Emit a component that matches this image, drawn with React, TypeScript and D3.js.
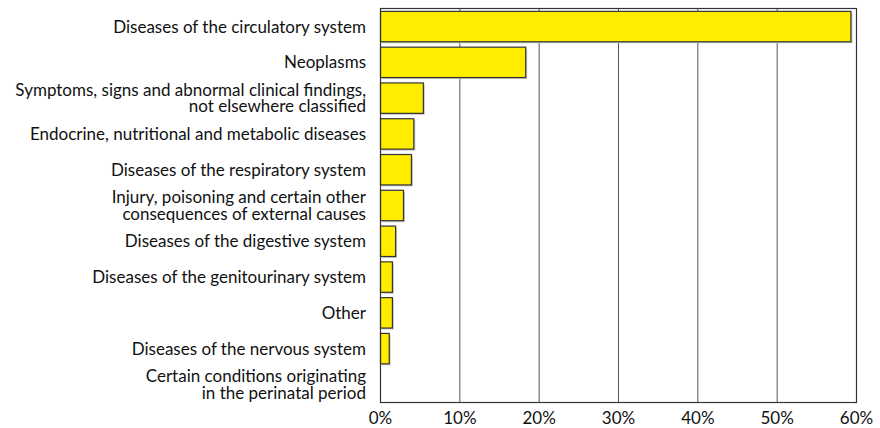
import React from "react";
import * as d3 from "d3";

const categories: string[][] = [
  ["Diseases of the circulatory system"],
  ["Neoplasms"],
  ["Symptoms, signs and abnormal clinical findings,", "not elsewhere classified"],
  ["Endocrine, nutritional and metabolic diseases"],
  ["Diseases of the respiratory system"],
  ["Injury, poisoning and certain other", "consequences of external causes"],
  ["Diseases of the digestive system"],
  ["Diseases of the genitourinary system"],
  ["Other"],
  ["Diseases of the nervous system"],
  ["Certain conditions originating", "in the perinatal period"],
];
const values: number[] = [59.3, 18.3, 5.4, 4.2, 3.9, 2.9, 1.9, 1.5, 1.5, 1.1, 0];
const ticks: number[] = [0, 10, 20, 30, 40, 50, 60];

const W = 880;
const H = 428;
const m = { left: 380.5, right: 23.5, top: 8.5, bottom: 25.5 };

export default function App() {
  const x = d3.scaleLinear().domain([0, 60]).range([m.left, W - m.right]);
  const y = d3
    .scaleBand<number>()
    .domain(d3.range(categories.length))
    .range([m.top, H - m.bottom])
    .paddingInner(0.15)
    .paddingOuter(0.08);
  const font = "Lato, 'Open Sans', sans-serif";
  return (
    <svg width={W} height={H} style={{ position: "absolute", left: 0, top: 0 }}>
      <rect x={0} y={0} width={W} height={H} fill="#fff" />
      {ticks.slice(1, -1).map((t) => (
        <line key={t} x1={x(t)} x2={x(t)} y1={m.top} y2={H - m.bottom} stroke="#555" strokeWidth={1} />
      ))}
      {values.map((v, i) =>
        v > 0 ? (
          <g key={i}>
            <rect
              x={x(0) + 1.5}
              y={(y(i) as number) + 1.5}
              width={x(v) - x(0)}
              height={y.bandwidth()}
              fill="#c8c8c8"
            />
            <rect
              x={x(0)}
              y={y(i)}
              width={x(v) - x(0)}
              height={y.bandwidth()}
              fill="#FFED00"
              stroke="#333"
              strokeWidth={1.2}
            />
          </g>
        ) : null
      )}
      <rect
        x={m.left}
        y={m.top}
        width={W - m.right - m.left}
        height={H - m.bottom - m.top}
        fill="none"
        stroke="#333"
        strokeWidth={1.2}
      />
      {categories.map((lines, i) => {
        const cy = (y(i) as number) + y.bandwidth() / 2;
        const lh = 16.5;
        const start = cy - ((lines.length - 1) * lh) / 2;
        return (
          <text key={i} textAnchor="end" fontFamily={font} fontSize={17} fill="#111">
            {lines.map((l, j) => (
              <tspan key={j} x={366} y={start + j * lh} dy="0.35em">
                {l}
              </tspan>
            ))}
          </text>
        );
      })}
      {ticks.map((t) => (
        <text
          key={t}
          x={x(t)}
          y={H - m.bottom + 16}
          dy="0.35em"
          textAnchor="middle"
          fontFamily={font}
          fontSize={17}
          fill="#111"
        >
          {t}%
        </text>
      ))}
    </svg>
  );
}
